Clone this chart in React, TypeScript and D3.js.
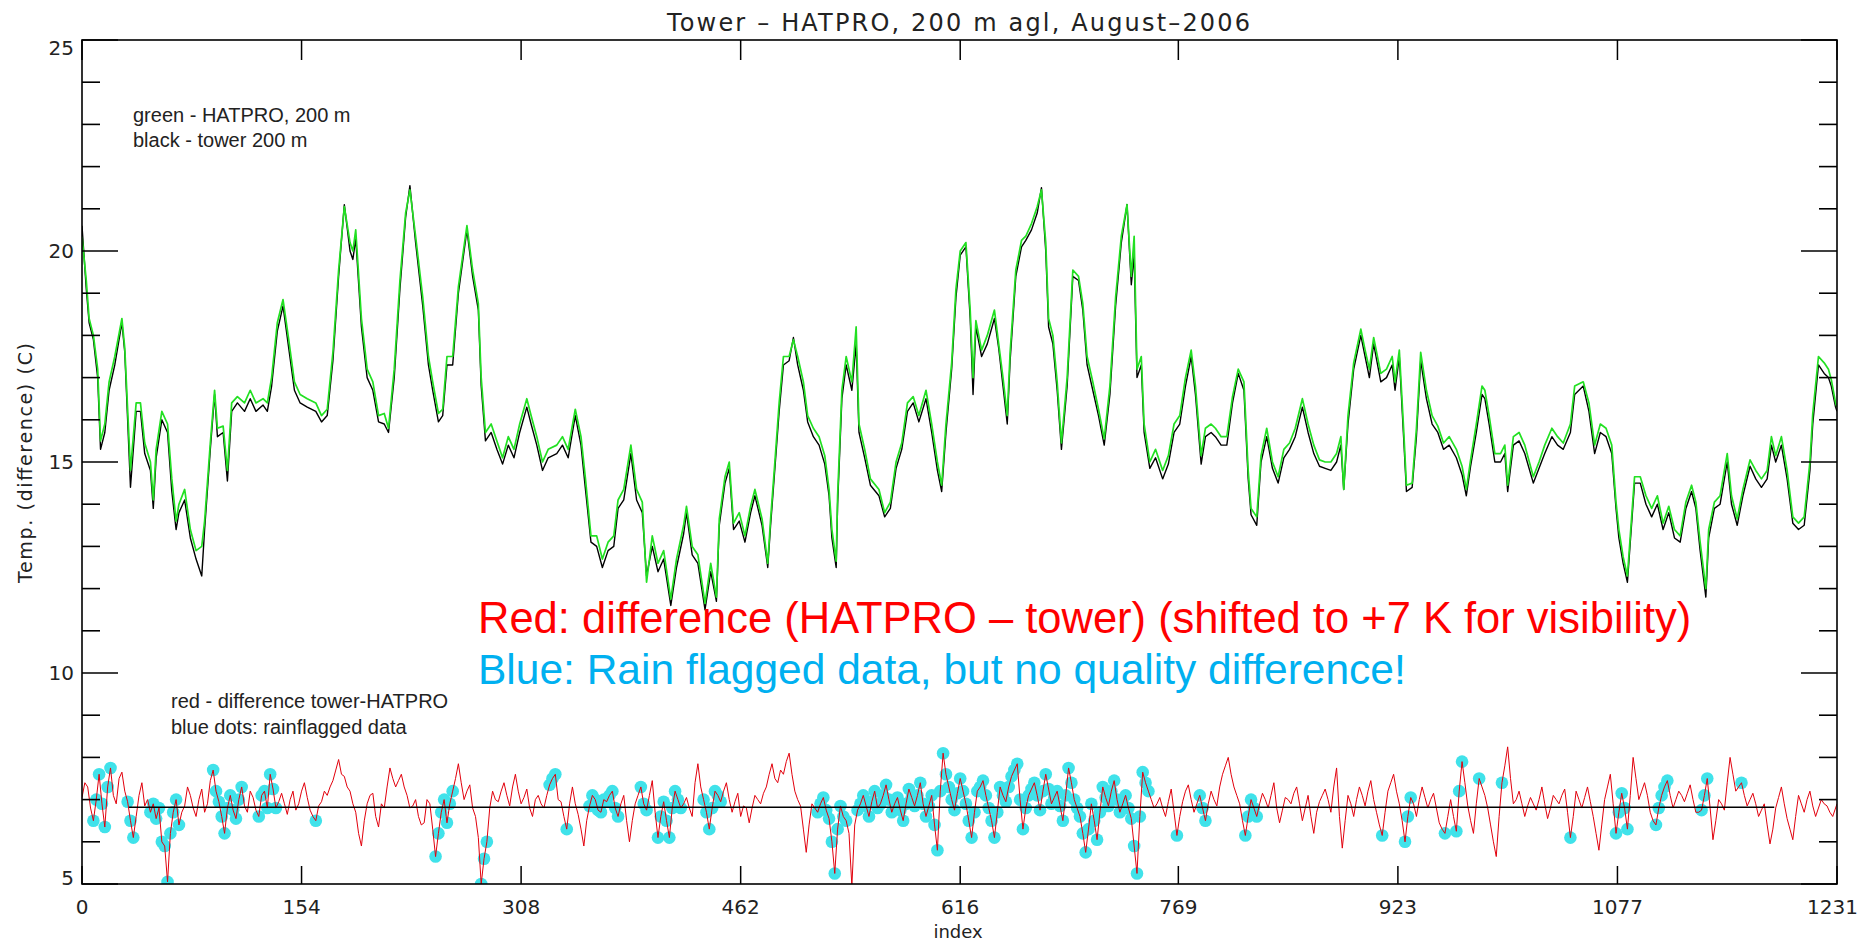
import React from 'react';
import * as d3 from 'd3';

// ---- Figure geometry -------------------------------------------------------
const WIDTH = 1860;
const HEIGHT = 943;
const PLOT = { left: 82, right: 1837, top: 40, bottom: 884 };

// ---- Text ------------------------------------------------------------------
const title = 'Tower – HATPRO, 200 m agl, August–2006';
const yAxisTitle = 'Temp. (difference) (C)';
const xAxisTitle = 'index';
const legendTop = ['green - HATPRO, 200 m', 'black - tower 200 m'];
const legendBottom = ['red - difference tower-HATPRO', 'blue dots: rainflagged data'];
const noteRed = 'Red: difference (HATPRO – tower) (shifted to +7 K for visibility)';
const noteBlue = 'Blue: Rain flagged data, but no quality difference!';

// ---- Axes ------------------------------------------------------------------
const xDomain = [0, 1231];
const yDomain = [5, 25];
const xTickLabels = [0, 154, 308, 462, 616, 769, 923, 1077, 1231];
const yMajorTicks = [5, 10, 15, 20, 25];
const yMinorTicks = [6, 7, 8, 9, 11, 12, 13, 14, 16, 17, 18, 19, 21, 22, 23, 24];

// ---- Temperature at 200 m (sample index, HATPRO, tower) --------------------
const sampleIndex = [
  0, 3, 5, 8, 11, 13, 16, 19, 23, 28, 30, 34, 38, 41, 44, 48, 50, 52, 56, 60,
  63, 66, 68, 72, 76, 80, 84, 86, 90, 93, 95, 99, 102, 105, 109, 114, 118, 122, 127, 130,
  133, 137, 141, 145, 149, 153, 158, 164, 168, 172, 176, 180, 184, 188, 190, 192, 196, 200, 204, 208,
  212, 215, 219, 223, 227, 230, 234, 239, 243, 246, 250, 253, 256, 260, 264, 270, 274, 278, 280, 283,
  287, 291, 295, 299, 303, 307, 312, 315, 319, 323, 327, 333, 337, 341, 346, 350, 353, 357, 361, 365,
  369, 373, 376, 380, 385, 389, 393, 396, 400, 404, 408, 413, 417,
  422, 424, 428, 432, 437, 441, 445, 447, 451, 454, 457, 461, 465, 469, 472, 477, 481, 483, 486, 489,
  492, 496, 499, 502, 506, 509, 513, 517, 521, 524, 526, 529, 530, 533, 536, 540, 543, 545, 549, 553,
  559, 563, 567, 571, 575, 579, 583, 587, 592, 596, 600, 603, 606, 610, 613, 616, 620, 623, 625, 627,
  631, 635, 640, 643, 646, 649, 651, 655, 659, 662, 666, 670, 673, 676, 678, 681, 684, 687, 691, 695,
  699, 702, 705, 709, 713, 717, 721, 725, 729, 733, 736, 738, 740, 743, 745, 749, 753, 758, 762, 766,
  770, 774, 778, 781, 785, 788, 792, 795, 799, 803, 807, 811, 815, 818, 820, 824,
  827, 831, 835, 839, 843, 847, 851, 856, 860, 864, 868, 872, 876, 880, 883, 885, 888, 892, 897, 900,
  903, 906, 911, 915, 919, 921, 924, 927, 929, 933, 936, 939, 943, 947, 951, 955, 959, 964, 968, 971,
  974, 978, 982, 984, 987, 991, 995, 998, 1000, 1004, 1008, 1012, 1018, 1022, 1026, 1031, 1035, 1039, 1044, 1047,
  1053, 1057, 1061, 1065, 1069, 1073, 1076, 1078, 1081, 1084, 1086, 1089, 1093, 1097, 1101, 1105, 1109, 1113, 1117, 1121,
  1125, 1129, 1132, 1135, 1139, 1141, 1145, 1149, 1154, 1157, 1161, 1165, 1170, 1174, 1178, 1182, 1185, 1188, 1192, 1196,
  1200, 1204, 1208, 1212, 1214, 1218, 1222, 1225, 1227, 1230, 1231,
];

const hatproTemp = [
  20.34, 19.3, 18.4, 18.0, 17.2, 15.5, 15.9, 16.9, 17.5, 18.4, 17.7, 14.8, 16.4, 16.4, 15.45, 15.0, 14.1, 15.3, 16.2, 15.9,
  14.6, 13.6, 14.0, 14.35, 13.4, 12.9, 13.0, 13.6, 15.45, 16.7, 15.8, 15.85, 14.8, 16.4, 16.55, 16.4, 16.7, 16.4, 16.5, 16.4,
  17.0, 18.3, 18.85, 17.9, 16.9, 16.6, 16.5, 16.4, 16.1, 16.25, 17.6, 19.55, 21.05, 20.2, 20.0, 20.5, 18.4, 17.2, 16.9, 16.1,
  16.15, 15.8, 17.2, 19.3, 20.9, 21.45, 20.35, 18.9, 17.5, 16.9, 16.15, 16.25, 17.5, 17.5, 19.15, 20.6, 19.55, 18.75, 17.0, 15.7,
  15.9, 15.5, 15.1, 15.6, 15.3, 15.9, 16.5, 16.1, 15.6, 15.0, 15.3, 15.4, 15.6, 15.3, 16.25, 15.6, 14.65, 13.25, 13.25, 12.7,
  13.1, 13.25, 14.1, 14.35, 15.4, 14.35, 14.05, 12.15, 13.25, 12.6, 12.9, 11.75, 12.7,
  13.5, 13.95, 13.0, 12.8, 11.65, 12.6, 11.8, 13.65, 14.65, 15.0, 13.55, 13.8, 13.25, 13.95, 14.35, 13.65, 12.6, 13.65, 15.0, 16.4,
  17.5, 17.5, 17.9, 17.5, 16.9, 16.1, 15.8, 15.6, 15.15, 14.35, 13.4, 12.65, 14.2, 16.7, 17.5, 16.9, 18.2, 15.9, 15.3, 14.6,
  14.35, 13.8, 14.05, 15.0, 15.45, 16.4, 16.55, 16.1, 16.7, 15.9, 15.0, 14.45, 15.9, 17.35, 19.1, 20.0, 20.2, 18.6, 17.0, 18.35,
  17.65, 18.0, 18.6, 17.8, 17.0, 16.1, 17.6, 19.55, 20.25, 20.35, 20.65, 21.05, 21.45, 20.2, 18.4, 18.0, 16.9, 15.45, 17.0, 19.55,
  19.4, 18.75, 17.5, 16.9, 16.25, 15.55, 16.8, 18.9, 20.35, 21.1, 19.4, 20.35, 17.2, 17.5, 15.9, 15.0, 15.3, 14.8, 15.15, 15.9,
  16.1, 17.0, 17.65, 16.8, 15.15, 15.8, 15.9, 15.8, 15.6, 15.6, 16.55, 17.2, 16.9, 14.8, 13.9, 13.7,
  15.15, 15.8, 15.0, 14.65, 15.3, 15.45, 15.8, 16.5, 15.9, 15.4, 15.05, 15.0, 15.0, 15.2, 15.6, 14.35, 16.1, 17.35, 18.15, 17.65,
  17.2, 17.95, 17.1, 17.2, 17.5, 16.9, 17.65, 15.8, 14.45, 14.5, 15.8, 17.6, 16.7, 16.1, 15.85, 15.45, 15.6, 15.3, 14.9, 14.35,
  15.05, 15.9, 16.8, 16.7, 16.1, 15.2, 15.2, 15.4, 14.45, 15.6, 15.7, 15.4, 14.65, 15.0, 15.4, 15.8, 15.6, 15.45, 15.9, 16.8,
  16.9, 16.4, 15.4, 15.9, 15.8, 15.4, 14.05, 13.4, 12.75, 12.3, 13.25, 14.65, 14.65, 14.2, 13.9, 14.2, 13.55, 13.95, 13.4, 13.25,
  14.05, 14.45, 14.05, 13.1, 12.0, 13.4, 14.05, 14.2, 15.2, 14.2, 13.65, 14.35, 15.05, 14.8, 14.6, 14.8, 15.6, 15.15, 15.6, 14.8,
  13.7, 13.55, 13.7, 15.0, 16.15, 17.5, 17.35, 17.2, 16.95, 16.4, 16.3,
];

const towerTemp = [
  20.6, 19.1, 18.3, 17.9, 17.0, 15.3, 15.7, 16.7, 17.3, 18.3, 17.6, 14.4, 16.2, 16.2, 15.2, 14.8, 13.9, 15.1, 16.0, 15.7,
  14.3, 13.4, 13.8, 14.1, 13.2, 12.7, 12.3, 13.4, 15.3, 16.6, 15.6, 15.7, 14.55, 16.2, 16.4, 16.2, 16.5, 16.2, 16.35, 16.2,
  16.8, 18.1, 18.7, 17.7, 16.7, 16.4, 16.3, 16.2, 15.95, 16.1, 17.4, 19.4, 21.1, 20.0, 19.8, 20.3, 18.2, 17.0, 16.7, 15.95,
  15.9, 15.7, 17.0, 19.1, 20.8, 21.55, 20.2, 18.7, 17.3, 16.7, 15.95, 16.1, 17.3, 17.3, 19.0, 20.5, 19.4, 18.6, 16.8, 15.5,
  15.7, 15.3, 14.95, 15.4, 15.1, 15.7, 16.3, 15.9, 15.4, 14.8, 15.1, 15.2, 15.4, 15.1, 16.1, 15.4, 14.4, 13.1, 13.0, 12.5,
  12.9, 13.0, 13.9, 14.1, 15.2, 14.1, 13.8, 12.3, 13.0, 12.4, 12.7, 11.6, 12.5,
  13.3, 13.8, 12.8, 12.6, 11.5, 12.4, 11.7, 13.5, 14.5, 14.85, 13.4, 13.6, 13.1, 13.8, 14.2, 13.5, 12.5, 13.5, 14.85, 16.2,
  17.3, 17.4, 17.95, 17.3, 16.7, 15.95, 15.6, 15.4, 14.95, 14.2, 13.2, 12.5, 14.0, 16.5, 17.3, 16.7, 17.8, 15.7, 15.1, 14.45,
  14.2, 13.7, 13.9, 14.85, 15.3, 16.2, 16.4, 15.95, 16.5, 15.7, 14.8, 14.3, 15.7, 17.2, 18.9, 19.9, 20.1, 18.4, 16.6, 18.2,
  17.5, 17.8, 18.4, 17.7, 16.8, 15.9, 17.4, 19.4, 20.1, 20.25, 20.5, 20.9, 21.5, 20.0, 18.2, 17.8, 16.7, 15.3, 16.8, 19.4,
  19.3, 18.6, 17.3, 16.7, 16.1, 15.4, 16.6, 18.7, 20.2, 21.1, 19.2, 19.9, 17.0, 17.3, 15.7, 14.85, 15.1, 14.6, 14.95, 15.7,
  15.9, 16.8, 17.5, 16.6, 14.95, 15.6, 15.7, 15.6, 15.4, 15.4, 16.4, 17.1, 16.7, 14.6, 13.75, 13.5,
  15.0, 15.6, 14.85, 14.5, 15.1, 15.3, 15.6, 16.3, 15.7, 15.2, 14.9, 14.85, 14.8, 15.0, 15.4, 14.35, 15.9, 17.2, 18.0, 17.5,
  17.0, 17.8, 16.9, 17.0, 17.3, 16.7, 17.5, 15.6, 14.3, 14.4, 15.6, 17.4, 16.5, 15.9, 15.7, 15.3, 15.4, 15.1, 14.7, 14.2,
  14.9, 15.7, 16.6, 16.5, 15.9, 15.0, 15.0, 15.2, 14.3, 15.4, 15.5, 15.2, 14.5, 14.85, 15.2, 15.6, 15.4, 15.3, 15.7, 16.6,
  16.8, 16.2, 15.2, 15.7, 15.6, 15.2, 13.9, 13.2, 12.6, 12.15, 13.1, 14.5, 14.5, 14.0, 13.7, 14.0, 13.4, 13.8, 13.2, 13.1,
  13.9, 14.3, 13.9, 12.9, 11.8, 13.2, 13.9, 14.0, 15.0, 14.0, 13.5, 14.2, 14.9, 14.6, 14.4, 14.6, 15.4, 15.0, 15.4, 14.6,
  13.55, 13.4, 13.5, 14.8, 15.9, 17.3, 17.1, 17.0, 16.8, 16.3, 16.2,
];

// ---- Difference tower-HATPRO, shifted by +7 K ------------------------------
// samples 0, 4, 8, ... 1228 and the last sample 1231
const diffIndexEven = [...d3.range(0, 1229, 4), 1231];
const diffShiftedEven = [
  7.05, 7.3, 6.5, 7.6, 6.35, 7.75, 6.9, 7.65, 6.95, 6.1, 7.1, 6.85, 6.7, 6.55, 6.0, 5.05, 6.7, 6.4, 6.85, 7.1,
  6.6, 7.25, 6.9, 7.7, 6.95, 6.2, 7.1, 6.55, 7.3, 6.7, 7.05, 6.6, 7.2, 7.6, 6.8, 7.15, 6.65, 7.2, 6.9, 7.4,
  6.75, 6.5, 6.95, 7.1, 7.45, 7.95, 7.55, 7.2, 6.7, 5.9, 6.9, 7.15, 6.35, 6.8, 7.75, 7.3, 7.6, 7.1, 6.85, 6.6,
  6.45, 6.9, 5.65, 6.7, 6.45, 7.2, 7.85, 7.0, 7.35, 6.6, 5.0, 6.0, 7.2, 6.95, 7.4, 6.85, 7.6, 6.9, 7.25, 6.6,
  7.1, 6.8, 7.35, 7.6, 6.95, 6.3, 7.3, 6.65, 5.9, 6.85, 7.0, 6.7, 6.95, 7.2, 6.6, 7.1, 6.0, 6.9, 7.3, 6.75,
  7.45, 6.1, 6.95, 6.1, 7.2, 6.8, 7.05, 6.6, 7.85, 7.0, 6.3, 7.2, 6.95, 7.4, 6.7, 7.15, 6.85, 6.45, 7.1, 6.9,
  7.3, 7.85, 7.4, 7.6, 8.1, 7.2, 6.85, 5.75, 6.9, 6.7, 7.05, 6.55, 5.25, 6.85, 6.5, 4.95, 6.75, 7.1, 6.6, 7.2,
  6.9, 7.35, 6.7, 7.05, 6.5, 7.25, 6.85, 7.4, 6.6, 7.1, 5.8, 8.1, 7.3, 6.75, 7.5, 6.9, 6.1, 7.2, 7.45, 6.8,
  6.1, 7.3, 6.95, 7.55, 7.85, 6.3, 7.1, 7.4, 6.75, 7.6, 6.9, 7.2, 6.5, 7.75, 7.0, 6.6, 5.75, 6.9, 6.05, 7.3,
  6.85, 7.45, 6.7, 7.1, 6.55, 5.25, 7.65, 7.2, 6.8, 7.05, 6.6, 7.25, 6.15, 6.95, 7.35, 6.7, 7.1, 6.5, 7.2, 6.85,
  7.6, 8.0, 7.3, 6.9, 6.15, 7.0, 6.6, 7.15, 6.8, 7.4, 6.45, 7.05, 6.9, 7.3, 6.5, 7.1, 6.2, 6.95, 7.25, 6.7,
  7.75, 5.85, 7.1, 6.6, 7.3, 6.85, 7.45, 6.7, 6.15, 7.2, 7.6, 6.9, 6.0, 7.05, 6.6, 7.3, 6.8, 7.15, 6.45, 6.2,
  7.0, 6.25, 7.9, 6.85, 6.2, 7.5, 7.1, 6.4, 5.65, 7.4, 8.25, 6.9, 7.2, 6.6, 7.05, 6.75, 7.3, 6.55, 7.1, 6.9,
  7.25, 6.1, 7.2, 6.8, 7.3, 6.6, 5.8, 7.0, 7.6, 6.2, 7.15, 6.3, 8.0, 7.0, 7.4, 6.7, 6.4, 7.1, 7.45, 6.8,
  7.2, 6.95, 7.35, 6.7, 6.75, 7.5, 6.05, 7.0, 6.75, 8.0, 7.2, 7.4, 6.85, 7.15, 6.6, 6.9, 5.95, 6.8, 7.3, 6.55,
  6.05, 7.1, 6.7, 7.2, 6.6, 7.0, 6.85, 6.6, 6.9,
];
// samples 2, 6, 10, ... 1226
const diffIndexOdd = d3.range(2, 1227, 4);
const diffShiftedOdd = [
  7.4, 6.8, 7.0, 6.9, 7.3, 7.1, 7.5, 7.2, 6.5, 6.6, 7.4, 7.0, 6.9, 6.8, 5.9, 6.2, 7.0, 6.7, 7.3, 6.8,
  7.0, 6.7, 7.45, 7.2, 6.6, 6.8, 6.75, 7.0, 6.85, 7.2, 6.75, 7.1, 6.8, 7.25, 6.95, 6.9, 7.0, 6.75, 7.2, 7.05,
  6.6, 6.85, 7.2, 7.3, 7.7, 7.6, 7.3, 6.9, 6.2, 6.5, 7.1, 6.6, 6.9, 7.3, 7.5, 7.45, 7.3, 6.8, 7.0, 6.4,
  7.0, 6.3, 6.2, 7.0, 6.9, 7.5, 7.4, 7.2, 6.8, 6.1, 5.6, 6.8, 7.0, 7.2, 7.1, 7.3, 7.2, 7.05, 6.8, 7.0,
  6.9, 7.1, 7.5, 7.0, 6.6, 6.9, 6.9, 6.3, 6.5, 7.1, 6.75, 7.0, 7.1, 6.8, 6.9, 6.5, 6.5, 7.1, 6.9, 7.1,
  6.7, 6.6, 6.5, 6.8, 7.0, 6.9, 6.8, 7.4, 7.3, 6.7, 6.8, 7.1, 7.2, 7.0, 6.95, 6.6, 6.8, 6.8, 7.0, 7.15,
  7.6, 7.5, 7.7, 7.9, 7.6, 7.0, 6.3, 6.4, 6.8, 6.9, 6.75, 6.0, 6.3, 6.6, 6.2, 6.4, 6.9, 6.85, 6.95, 6.8,
  7.1, 7.0, 6.9, 6.75, 6.9, 7.05, 7.1, 6.9, 6.85, 6.4, 7.2, 7.6, 7.0, 7.15, 7.2, 6.5, 6.7, 7.3, 7.1, 6.5,
  6.7, 7.1, 7.3, 7.7, 7.0, 6.8, 7.25, 7.1, 7.2, 7.25, 7.05, 6.85, 7.1, 7.4, 6.8, 6.2, 6.3, 6.5, 6.7, 7.05,
  7.2, 7.0, 6.9, 6.8, 5.9, 6.6, 7.4, 7.0, 6.9, 6.8, 6.95, 6.7, 6.6, 7.2, 7.0, 6.9, 6.8, 6.9, 7.0, 7.3,
  7.8, 7.6, 7.1, 6.5, 6.6, 6.8, 6.9, 7.0, 7.1, 6.8, 6.75, 7.0, 7.15, 6.9, 6.8, 6.6, 6.7, 7.1, 7.0, 7.3,
  6.6, 6.5, 6.9, 7.0, 7.1, 7.2, 7.0, 6.4, 6.7, 7.4, 7.2, 6.5, 6.6, 6.9, 7.0, 7.05, 7.0, 6.8, 6.3, 6.6,
  6.6, 7.2, 7.4, 6.5, 6.9, 7.3, 6.8, 6.0, 6.6, 7.8, 7.5, 7.0, 6.9, 6.85, 6.9, 7.0, 6.9, 6.8, 7.0, 7.1,
  6.7, 6.6, 7.0, 7.05, 6.95, 6.2, 6.4, 7.3, 6.9, 6.7, 6.8, 7.1, 7.5, 7.2, 7.1, 6.5, 6.8, 7.3, 7.1, 7.0,
  7.1, 7.15, 7.0, 6.7, 7.1, 6.8, 6.5, 6.9, 7.4, 7.6, 7.3, 7.1, 7.0, 6.9, 6.75, 6.4, 6.3, 7.05, 6.9, 6.3,
  6.6, 6.9, 7.0, 6.85, 6.8, 6.9, 6.7,
];

// Samples flagged by the rain sensor
const rainFlagIndex = [
  8, 10, 12, 14, 16, 18, 20, 32, 34, 36, 48, 50, 52, 54, 56, 58, 60, 62, 64, 66, 68,
  92, 94, 96, 98, 100, 102, 104, 106, 108, 110, 112, 124, 126, 128, 130, 132, 134, 136, 164,
  248, 250, 252, 254, 256, 258, 260, 280, 282, 284, 328, 330, 332, 340,
  356, 358, 360, 362, 364, 366, 368, 370, 372, 374, 376,
  392, 394, 396, 404, 406, 408, 410, 412, 414, 416, 418, 420, 436, 438, 440, 442, 444, 446, 448,
  516, 518, 520, 522, 524, 526, 528, 530, 532, 534, 536, 544, 546, 548, 550, 552, 554, 556, 558,
  560, 562, 564, 566, 568, 570, 572, 574, 576, 578, 580, 582, 584, 586, 588, 590, 592, 594, 596, 598,
  600, 602, 604, 606, 608, 610, 612, 614, 616, 618, 620, 622, 624, 626, 628, 630, 632, 634, 636, 638,
  640, 642, 644, 646, 648, 650, 652, 654, 656, 658, 660, 662, 664, 666, 668, 670, 672, 674, 676, 678,
  680, 682, 684, 686, 688, 690, 692, 694, 696, 698, 700, 702, 704, 706, 708, 710, 712, 714, 716, 718,
  720, 722, 724, 726, 728, 730, 732, 734, 736, 738, 740, 742, 744, 746, 748,
  768, 784, 786, 788, 816, 818, 820, 822, 824, 912, 928, 930, 932, 956, 964, 966, 968, 980, 996,
  1044, 1076, 1078, 1080, 1082, 1084, 1104, 1106, 1108, 1110, 1112, 1136, 1138, 1140, 1164,
];

// Mean difference (+7 K) reference line
const meanDiff = 6.82;
const meanSpan = [33, 1187];

const AXIS_FONT = '"DejaVu Sans", sans-serif';
const NOTE_FONT = '"Liberation Sans", Arial, sans-serif';

export default function App() {
  const x = d3.scaleLinear().domain(xDomain).range([PLOT.left, PLOT.right]);
  const y = d3.scaleLinear().domain(yDomain).range([PLOT.bottom, PLOT.top]);

  const seriesLine = (idx: number[]) =>
    d3
      .line<number>()
      .x((_, i) => x(idx[i]))
      .y((d) => y(d));

  const towerPath = seriesLine(sampleIndex)(towerTemp) || '';
  const hatproPath = seriesLine(sampleIndex)(hatproTemp) || '';

  // merge both halves of the difference record into one time-ordered series
  const diffSamples: [number, number][] = [
    ...diffIndexEven.map((i, k) => [i, diffShiftedEven[k]] as [number, number]),
    ...diffIndexOdd.map((i, k) => [i, diffShiftedOdd[k]] as [number, number]),
  ].sort((a, b) => a[0] - b[0]);

  const diffPath =
    d3
      .line<[number, number]>()
      .x((d) => x(d[0]))
      .y((d) => y(d[1]))(diffSamples) || '';

  const diffLookup = new Map(diffSamples);
  const rainDots = rainFlagIndex
    .filter((i) => diffLookup.has(i))
    .map((i) => ({ cx: x(i), cy: y(diffLookup.get(i) as number) }));

  const yLabelPos = (v: number) =>
    Math.min(Math.max(y(v), PLOT.top + 8), PLOT.bottom - 6);

  return (
    <svg
      width={WIDTH}
      height={HEIGHT}
      viewBox={`0 0 ${WIDTH} ${HEIGHT}`}
      style={{ position: 'absolute', left: 0, top: 0, background: '#ffffff' }}
    >
      <defs>
        <clipPath id="plot-area">
          <rect
            x={PLOT.left}
            y={PLOT.top}
            width={PLOT.right - PLOT.left}
            height={PLOT.bottom - PLOT.top}
          />
        </clipPath>
      </defs>
      <rect width={WIDTH} height={HEIGHT} fill="#ffffff" />

      {/* title */}
      <text
        x={667}
        y={31}
        fontFamily={AXIS_FONT}
        fontSize={24}
        fill="#222"
        textLength={583}
        lengthAdjust="spacing"
      >
        {title}
      </text>

      <g clipPath="url(#plot-area)">
        <path d={towerPath} fill="none" stroke="#000000" strokeWidth={1.4} strokeLinejoin="round" />
        <path d={hatproPath} fill="none" stroke="#22e022" strokeWidth={1.7} strokeLinejoin="round" />
        {rainDots.map((d, i) => (
          <circle key={i} cx={d.cx} cy={d.cy} r={6.3} fill="#40e2ea" />
        ))}
        <path d={diffPath} fill="none" stroke="#e2000c" strokeWidth={1} strokeLinejoin="round" />
        <line
          x1={x(meanSpan[0])}
          x2={x(meanSpan[1])}
          y1={y(meanDiff)}
          y2={y(meanDiff)}
          stroke="#000"
          strokeWidth={1.6}
        />
      </g>

      {/* frame */}
      <rect
        x={PLOT.left}
        y={PLOT.top}
        width={PLOT.right - PLOT.left}
        height={PLOT.bottom - PLOT.top}
        fill="none"
        stroke="#000"
        strokeWidth={1.6}
      />

      {/* y ticks on both sides */}
      {yMajorTicks.map((v) => (
        <g key={`ymaj${v}`}>
          <line x1={PLOT.left} x2={PLOT.left + 36} y1={y(v)} y2={y(v)} stroke="#000" strokeWidth={1.6} />
          <line x1={PLOT.right} x2={PLOT.right - 36} y1={y(v)} y2={y(v)} stroke="#000" strokeWidth={1.6} />
          <text
            x={74}
            y={yLabelPos(v) + 7.3}
            textAnchor="end"
            fontFamily={AXIS_FONT}
            fontSize={20}
            fill="#222"
          >
            {v}
          </text>
        </g>
      ))}
      {yMinorTicks.map((v) => (
        <g key={`ymin${v}`}>
          <line x1={PLOT.left} x2={PLOT.left + 18} y1={y(v)} y2={y(v)} stroke="#000" strokeWidth={1.6} />
          <line x1={PLOT.right} x2={PLOT.right - 18} y1={y(v)} y2={y(v)} stroke="#000" strokeWidth={1.6} />
        </g>
      ))}

      {/* x ticks on top and bottom */}
      {xTickLabels.map((v, i) => {
        const last = i === xTickLabels.length - 1;
        return (
          <g key={`x${v}`}>
            <line x1={x(v)} x2={x(v)} y1={PLOT.top} y2={PLOT.top + 20} stroke="#000" strokeWidth={1.5} />
            <line x1={x(v)} x2={x(v)} y1={PLOT.bottom} y2={PLOT.bottom - 18} stroke="#000" strokeWidth={1.5} />
            <text
              x={last ? WIDTH - 2 : x(v)}
              y={914}
              textAnchor={last ? 'end' : 'middle'}
              fontFamily={AXIS_FONT}
              fontSize={20}
              fill="#222"
            >
              {v}
            </text>
          </g>
        );
      })}

      {/* axis titles */}
      <text x={958} y={938} textAnchor="middle" fontFamily={AXIS_FONT} fontSize={18} fill="#222">
        {xAxisTitle}
      </text>
      <text
        transform="translate(32,463) rotate(-90)"
        textAnchor="middle"
        fontFamily={AXIS_FONT}
        fontSize={19}
        fill="#222"
        textLength={240}
        lengthAdjust="spacing"
      >
        {yAxisTitle}
      </text>

      {/* legends */}
      {legendTop.map((t, i) => (
        <text key={t} x={133} y={121.5 + i * 25.5} fontFamily={NOTE_FONT} fontSize={20} fill="#222">
          {t}
        </text>
      ))}
      {legendBottom.map((t, i) => (
        <text key={t} x={171} y={708 + i * 25.5} fontFamily={NOTE_FONT} fontSize={20} fill="#222">
          {t}
        </text>
      ))}

      {/* notes */}
      <text x={478} y={633} fontFamily={NOTE_FONT} fontSize={43.5} fill="#ff0000">
        {noteRed}
      </text>
      <text x={478} y={684} fontFamily={NOTE_FONT} fontSize={42.5} fill="#00b0f0">
        {noteBlue}
      </text>
    </svg>
  );
}
